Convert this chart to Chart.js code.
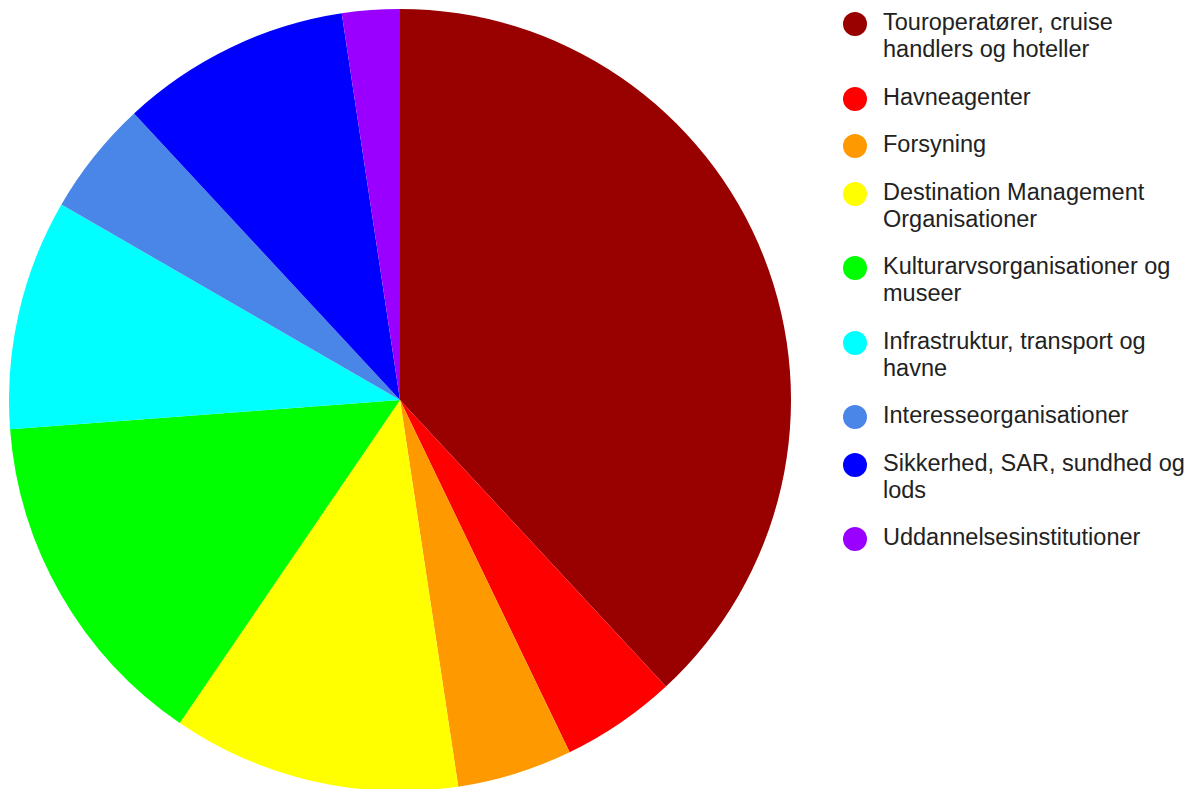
<!DOCTYPE html>
<html lang="da">
<head>
<meta charset="UTF-8">
<title>Aktører</title>
<script src="https://cdn.jsdelivr.net/npm/chart.js"></script>
<style>
  html, body { margin: 0; padding: 0; background: #fff; overflow: hidden; }
  body { width: 1194px; height: 789px; position: relative; font-family: "Liberation Sans", Arial, sans-serif; }
  #pie { position: absolute; left: 9px; top: 9px; width: 782px; height: 782px; }
  #legend { position: absolute; left: 843px; top: 9px; margin: 0; padding: 0; list-style: none; }
  #legend li { position: relative; padding-left: 40px; font-size: 23.5px; line-height: 27px; color: #222; margin-bottom: 20.5px; white-space: pre; }
  #legend li span { position: absolute; left: 0; top: 3px; width: 24px; height: 24px; border-radius: 50%; }
</style>
</head>
<body>
<div id="pie"><canvas id="myChartCanvas"></canvas></div>
<ul id="legend"></ul>

<script>
// kategorier (linjeskift som i forklaringen)
var kategorier = [
  "Touroperatører, cruise\nhandlers og hoteller",
  "Havneagenter",
  "Forsyning",
  "Destination Management\nOrganisationer",
  "Kulturarvsorganisationer og\nmuseer",
  "Infrastruktur, transport og\nhavne",
  "Interesseorganisationer",
  "Sikkerhed, SAR, sundhed og\nlods",
  "Uddannelsesinstitutioner"
];
var antal = [16, 2, 2, 5, 6, 4, 2, 4, 1];
var farver = ["#990000", "#ff0000", "#ff9900", "#ffff00", "#00ff00", "#00ffff", "#4a86e8", "#0000ff", "#9900ff"];

var ul = document.getElementById("legend");
for (var i = 0; i < kategorier.length; i++) {
  var li = document.createElement("li");
  var prik = document.createElement("span");
  prik.style.background = farver[i];
  li.appendChild(prik);
  li.appendChild(document.createTextNode(kategorier[i]));
  ul.appendChild(li);
}

var ctx = document.getElementById("myChartCanvas").getContext("2d");
new Chart(ctx, {
  type: "pie",
  data: {
    labels: kategorier.map(function (k) { return k.replace("\n", " "); }),
    datasets: [{
      data: antal,
      backgroundColor: farver,
      borderWidth: 0,
      hoverOffset: 0
    }]
  },
  options: {
    responsive: true,
    maintainAspectRatio: false,
    animation: false,
    layout: { padding: 0 },
    plugins: {
      legend: { display: false },
      tooltip: { enabled: false }
    }
  }
});
</script>
</body>
</html>
